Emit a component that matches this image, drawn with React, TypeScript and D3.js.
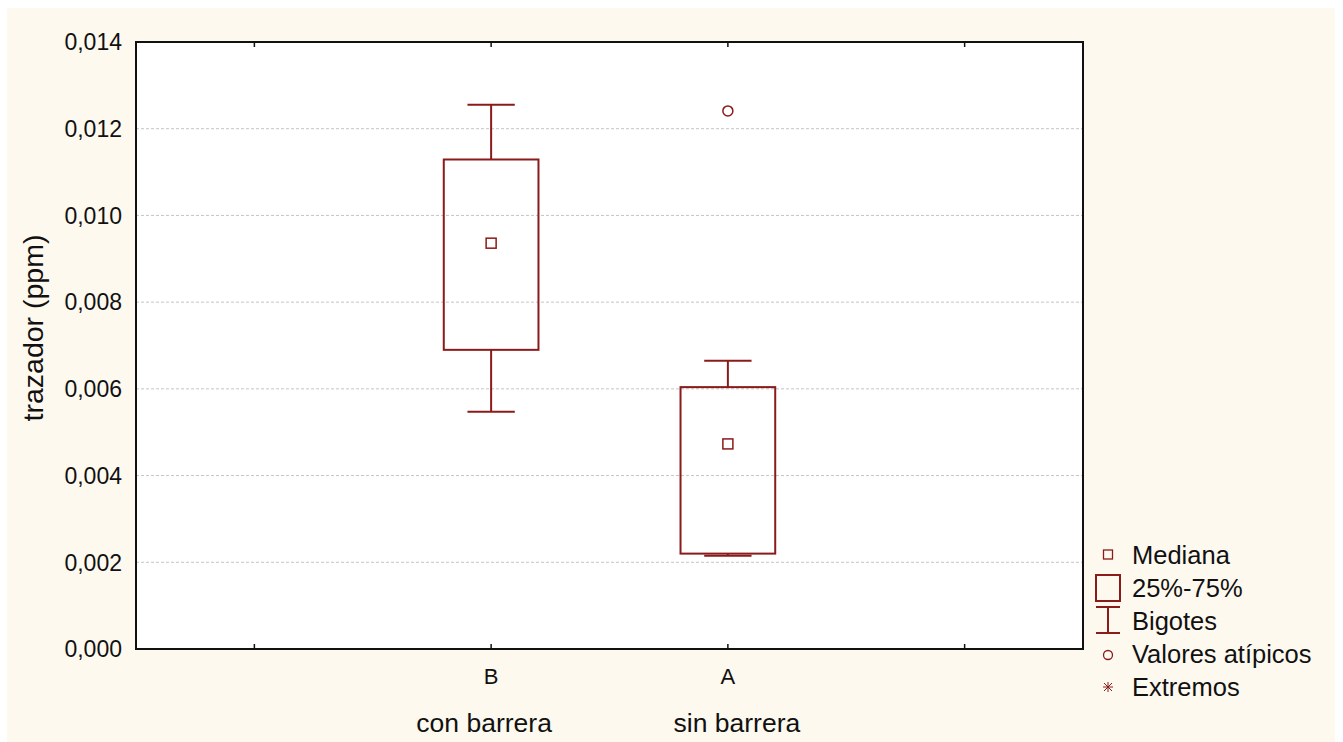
import * as d3 from 'd3';

const W = 1343;
const H = 742;

// data
const slots = ['s1', 'B', 'A', 's4'];
const categories = ['B', 'A'];
const groupLabels = ['con barrera', 'sin barrera'];
const groupShift = [-7, 9];
const whiskerLow = [0.00547, 0.00215];
const q1 = [0.0069, 0.0022];
const median = [0.00936, 0.00473];
const q3 = [0.01129, 0.00604];
const whiskerHigh = [0.01255, 0.00665];
const outliers: number[][] = [[], [0.01241]];
const yTicks = [0, 0.002, 0.004, 0.006, 0.008, 0.01, 0.012, 0.014];
const legendItems = ['Mediana', '25%-75%', 'Bigotes', 'Valores atípicos', 'Extremos'];

const RED = '#8b1a1a';
const FONT = '"Liberation Sans", Arial, sans-serif';

export default function App() {
  const m = { left: 136, top: 42, right: 1083, bottom: 649 };
  const x = d3.scalePoint<string>().domain(slots).range([m.left, m.right]).padding(0.5);
  const y = d3.scaleLinear().domain([0, 0.014]).range([m.bottom, m.top]);
  const step = x.step();
  const boxW = step * 0.4;
  const capW = step * 0.2;
  const fmt = (v: number) => d3.format('.3f')(v).replace('.', ',');

  const legX = 1108;
  const legY0 = 555;
  const legStep = 33;

  return (
    <svg width={W} height={H} style={{ position: 'absolute', left: 0, top: 0, fontFamily: FONT }}>
      <rect x={0} y={0} width={W} height={H} fill="#ffffff" />
      <rect x={7} y={8} width={1328} height={H - 8} fill="#fef9ef" />
      <rect x={m.left} y={m.top} width={m.right - m.left} height={m.bottom - m.top} fill="#ffffff" />

      {/* grid */}
      {yTicks.slice(1, -1).map(t => (
        <line key={t} x1={m.left} x2={m.right} y1={y(t)} y2={y(t)}
          stroke="#c4c4c4" strokeWidth={1} strokeDasharray="3,2" />
      ))}

      {/* boxes */}
      {categories.map((c, i) => {
        const cx = x(c)!;
        return (
          <g key={c} stroke={RED} fill="none" strokeWidth={2}>
            <line x1={cx} x2={cx} y1={y(whiskerHigh[i])} y2={y(q3[i])} />
            <line x1={cx} x2={cx} y1={y(q1[i])} y2={y(whiskerLow[i])} />
            <line x1={cx - capW / 2} x2={cx + capW / 2} y1={y(whiskerHigh[i])} y2={y(whiskerHigh[i])} />
            <line x1={cx - capW / 2} x2={cx + capW / 2} y1={y(whiskerLow[i])} y2={y(whiskerLow[i])} />
            <rect x={cx - boxW / 2} y={y(q3[i])} width={boxW} height={y(q1[i]) - y(q3[i])} />
            <rect x={cx - 5} y={y(median[i]) - 5} width={10} height={10} strokeWidth={1.5} />
            {outliers[i].map((o, j) => (
              <circle key={j} cx={cx} cy={y(o)} r={5} strokeWidth={1.5} />
            ))}
          </g>
        );
      })}

      {/* frame */}
      <rect x={m.left} y={m.top} width={m.right - m.left} height={m.bottom - m.top}
        fill="none" stroke="#111" strokeWidth={2} />
      {slots.map(s => (
        <g key={s} stroke="#111" strokeWidth={1.5}>
          <line x1={x(s)} x2={x(s)} y1={m.bottom} y2={m.bottom - 5} />
          <line x1={x(s)} x2={x(s)} y1={m.top} y2={m.top + 5} />
        </g>
      ))}

      {/* y axis labels */}
      {yTicks.map(t => (
        <text key={t} x={122} y={y(t)} dy="0.36em" textAnchor="end" fontSize={23} fill="#111">{fmt(t)}</text>
      ))}
      <text transform={`translate(43,328) rotate(-90)`} textAnchor="middle"
        fontSize={28.5} fill="#111">trazador (ppm)</text>

      {/* x labels */}
      {categories.map((c, i) => (
        <g key={c}>
          <text x={x(c)} y={676} dy="0.36em" textAnchor="middle" fontSize={22} fill="#111">{c}</text>
          <text x={x(c)! + groupShift[i]} y={722} dy="0.36em" textAnchor="middle" fontSize={26.5} fill="#111">{groupLabels[i]}</text>
        </g>
      ))}

      {/* legend */}
      {legendItems.map((d, i) => {
        const ly = legY0 + i * legStep;
        return (
          <g key={d}>
            {i === 0 && <rect x={legX - 4.5} y={ly - 5} width={9} height={9} fill="none" stroke={RED} strokeWidth={1.3} />}
            {i === 1 && <rect x={legX - 12} y={ly - 13} width={24} height={26} fill="none" stroke={RED} strokeWidth={2} />}
            {i === 2 && (
              <g stroke={RED} strokeWidth={2}>
                <line x1={legX - 12} x2={legX + 12} y1={ly - 14} y2={ly - 14} />
                <line x1={legX - 12} x2={legX + 12} y1={ly + 12} y2={ly + 12} />
                <line x1={legX} x2={legX} y1={ly - 14} y2={ly + 12} />
              </g>
            )}
            {i === 3 && <circle cx={legX} cy={ly + 1} r={4.5} fill="none" stroke={RED} strokeWidth={1.3} />}
            {i === 4 && (
              <g stroke={RED} strokeWidth={1}>
                <line x1={legX - 5} x2={legX + 5} y1={ly} y2={ly} />
                <line x1={legX} x2={legX} y1={ly - 5} y2={ly + 5} />
                <line x1={legX - 4} x2={legX + 4} y1={ly - 4} y2={ly + 4} />
                <line x1={legX - 4} x2={legX + 4} y1={ly + 4} y2={ly - 4} />
              </g>
            )}
            <text x={1132} y={ly} dy="0.36em" fontSize={25.5} fill="#111">{d}</text>
          </g>
        );
      })}
    </svg>
  );
}
